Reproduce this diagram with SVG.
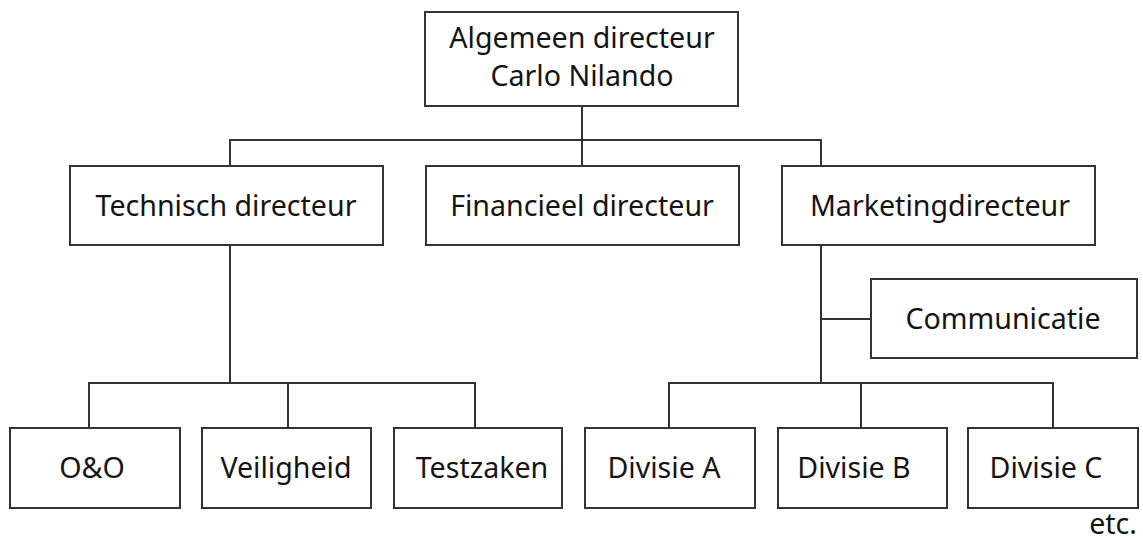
<svg xmlns="http://www.w3.org/2000/svg" width="1143" height="540" viewBox="0 0 1143 540">
  <style>
    .box { fill: #ffffff; stroke: #333333; stroke-width: 2; }
    .lbl { font-family: "Noto Sans", "Open Sans", sans-serif; font-size: 28.6px; fill: #141414; text-anchor: middle; }
    .wire { fill: none; stroke: #333333; stroke-width: 2; }
  </style>
  <rect width="1143" height="540" fill="#ffffff"/>

  <!-- connectors -->
  <g id="connectors">
    <path class="wire" d="M582 106 V140 M230 166 V140 H821 V166 M582 140 V166"/>
    <path class="wire" d="M230 245 V383 M89 428 V383 H475 V428 M288 383 V428"/>
    <path class="wire" d="M821 245 V383 M669 428 V383 H1053 V428 M861 383 V428 M821 319 H871"/>
  </g>

  <g id="algemeen-directeur">
    <rect class="box" x="425" y="12" width="313" height="94"/>
    <text class="lbl" x="582" y="48">Algemeen directeur</text>
    <text class="lbl" x="582" y="86">Carlo Nilando</text>
  </g>
  <g id="technisch-directeur">
    <rect class="box" x="70" y="166" width="313" height="79"/>
    <text class="lbl" x="226" y="216">Technisch directeur</text>
  </g>
  <g id="financieel-directeur">
    <rect class="box" x="426" y="166" width="313" height="79"/>
    <text class="lbl" x="582" y="216">Financieel directeur</text>
  </g>
  <g id="marketingdirecteur">
    <rect class="box" x="782" y="166" width="313" height="79"/>
    <text class="lbl" x="940" y="216">Marketingdirecteur</text>
  </g>
  <g id="communicatie">
    <rect class="box" x="871" y="279" width="266" height="79"/>
    <text class="lbl" x="1003" y="329">Communicatie</text>
  </g>
  <g id="o-en-o">
    <rect class="box" x="10" y="428" width="170" height="80"/>
    <text class="lbl" x="92" y="478">O&amp;O</text>
  </g>
  <g id="veiligheid">
    <rect class="box" x="202" y="428" width="169" height="80"/>
    <text class="lbl" x="286" y="478">Veiligheid</text>
  </g>
  <g id="testzaken">
    <rect class="box" x="394" y="428" width="168" height="80"/>
    <text class="lbl" x="482" y="478">Testzaken</text>
  </g>
  <g id="divisie-a">
    <rect class="box" x="585" y="428" width="170" height="80"/>
    <text class="lbl" x="664" y="478">Divisie A</text>
  </g>
  <g id="divisie-b">
    <rect class="box" x="778" y="428" width="169" height="80"/>
    <text class="lbl" x="854" y="478">Divisie B</text>
  </g>
  <g id="divisie-c">
    <rect class="box" x="968" y="428" width="170" height="80"/>
    <text class="lbl" x="1046" y="478">Divisie C</text>
  </g>
  <text class="lbl" x="1137" y="534" style="text-anchor:end">etc.</text>
</svg>
